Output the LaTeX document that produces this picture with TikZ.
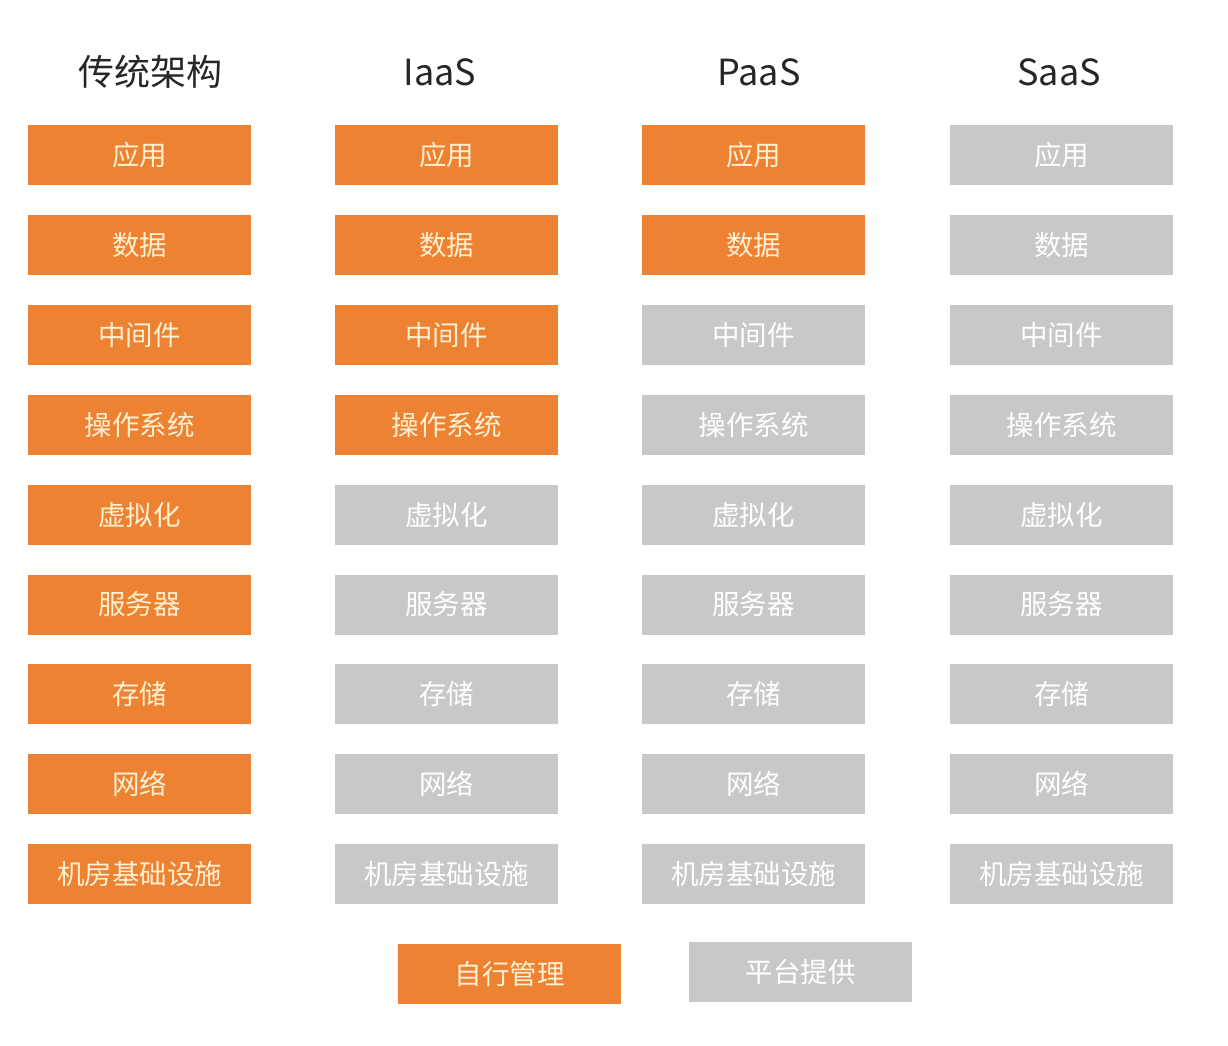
\documentclass[tikz,border=0pt]{standalone}
\usepackage{fontspec}
\setmainfont{Noto Sans CJK SC}
\newfontfamily\cjk{Noto Sans CJK SC}
\definecolor{orng}{HTML}{EC8232}
\definecolor{gry}{HTML}{C8C8C8}
\definecolor{otext}{HTML}{FFF0D2}
\definecolor{htext}{HTML}{262626}
\begin{document}
\begin{tikzpicture}[x=1pt,y=-1pt,
  cell/.style={minimum width=223pt,minimum height=60pt,inner sep=0pt,font=\cjk\fontsize{27.5}{27.5}\selectfont},
  own/.style={cell,fill=orng,text=otext},
  prov/.style={cell,fill=gry,text=white},
  head/.style={font=\cjk\fontsize{36}{36}\selectfont,text=htext}]
\useasboundingbox (0,0) rectangle (1228,1046);
\fill[white] (0,0) rectangle (1228,1046);
% headers
\node[head] (h1) at (150,72) {传统架构};
\node[head] (h2) at (440,72) {IaaS};
\node[head] (h3) at (759,72) {PaaS};
\node[head] (h4) at (1059,72) {SaaS};
% rows
\foreach \lab [count=\i] in {应用,数据,中间件,操作系统,虚拟化,服务器,存储,网络,机房基础设施}{
  \pgfmathsetmacro{\yy}{155+89.9*(\i-1)}
  \node[own] (a\i) at (139.5,\yy) {\lab};
  \pgfmathsetmacro{\stb}{\i<5 ? 1 : 0}
  \ifnum\stb=1 \node[own] (b\i) at (446.5,\yy) {\lab};
  \else \node[prov] (b\i) at (446.5,\yy) {\lab}; \fi
  \pgfmathsetmacro{\stc}{\i<3 ? 1 : 0}
  \ifnum\stc=1 \node[own] (c\i) at (753.5,\yy) {\lab};
  \else \node[prov] (c\i) at (753.5,\yy) {\lab}; \fi
  \node[prov] (d\i) at (1061.5,\yy) {\lab};
}
% legend
\node[own] (l1) at (509.5,974) {自行管理};
\node[prov] (l2) at (800.5,972) {平台提供};
\end{tikzpicture}
\end{document}
